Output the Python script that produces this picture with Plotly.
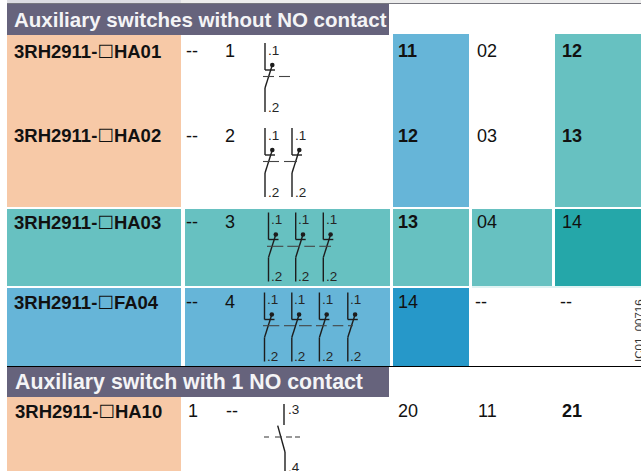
import plotly.graph_objects as go

# ---- table content ----
section_titles = ["Auxiliary switches without NO contact", "Auxiliary switch with 1 NO contact"]
order_codes = ["3RH2911-☐HA01", "3RH2911-☐HA02", "3RH2911-☐HA03", "3RH2911-☐FA04", "3RH2911-☐HA10"]
no_contacts = ["--", "--", "--", "--", "1"]
nc_contacts = ["1", "2", "3", "4", "--"]
col_a = ["11", "12", "13", "14", "20"]
col_a_bold = [True, True, True, False, False]
col_b = ["02", "03", "04", "--", "11"]
col_c = ["12", "13", "14", "--", "21"]
col_c_bold = [True, True, False, False, True]
figure_id = "IC01_00716"

# ---- layout of the page (pixels) ----
W, H = 641, 471
row_y = [51, 135.5, 222, 302, 411]
PEACH, BLUE, TEAL, DTEAL, DBLUE, SLATE = "#F7C9A7", "#66B5D8", "#67C1C1", "#25A7A9", "#2698C9", "#66637C"

rects = [
    (7, 181, 0, 3, "#DCDCE2"), (181, 641, 0, 3, "#EDEDED"), (7, 641, 3, 4, "#77777F"),
    (7, 389, 4, 35, SLATE), (7, 181, 35, 207, PEACH),
    (393, 469, 34, 207, BLUE), (555, 641, 34, 207, TEAL),
    (7, 181, 209, 286, TEAL), (185, 390, 209, 286, TEAL), (393, 469, 209, 286, TEAL),
    (472, 552, 209, 286, TEAL), (555, 641, 209, 286, DTEAL),
    (472, 641, 286, 288, "#DFF3F3"),
    (7, 181, 288, 366, BLUE), (185, 390, 288, 366, BLUE), (393, 469, 288, 366, DBLUE),
    (7, 641, 366, 367, "#000000"), (7, 389, 367, 397, SLATE), (7, 181, 397, 471, PEACH),
]

INK = "#1d1d1d"
LABEL = "#262626"
shapes = []
ann = []


def line(x0, y0, x1, y1, w=1.4, color=INK):
    shapes.append(dict(type="line", x0=x0, y0=y0, x1=x1, y1=y1, line=dict(color=color, width=w)))


def text(x, y, s, size=18, color="#111111", anchor="left", angle=0, bold=False):
    ann.append(dict(x=x, y=y, text=f"<b>{s}</b>" if bold else s, showarrow=False, xanchor=anchor,
                    yanchor="middle", xref="x", yref="y", textangle=angle, borderpad=0, borderwidth=0,
                    font=dict(family="Liberation Sans, DejaVu Sans", size=size, color=color)))


def nc_symbol(x, dy):
    line(x, 43 + dy, x, 70 + dy)
    line(x, 70 + dy, x + 10, 70 + dy)
    shapes.append(dict(type="circle", x0=x + 5, x1=x + 9.6, y0=62.7 + dy, y1=67.3 + dy,
                       fillcolor=INK, line=dict(width=0)))
    line(x + 7.3, 65 + dy, x, 88 + dy)
    line(x, 88 + dy, x, 112 + dy)
    text(x + 2.5, 50 + dy, ".1", size=13.5, color=LABEL)
    text(x + 2.5, 107 + dy, ".2", size=13.5, color=LABEL)


def dashes(spans, y):
    for a, b in spans:
        line(a, y, b, y, 1.1, "#444444")


for x0, x1, y0, y1, c in rects:
    shapes.append(dict(type="rect", x0=x0, x1=x1, y0=y0, y1=y1, fillcolor=c, line=dict(width=0), layer="below"))

# contact symbols
nc_symbol(265, 0)
dashes([(263, 274), (279, 290)], 76.5)
for x in (265, 292):
    nc_symbol(x, 85)
dashes([(263, 279), (284, 297)], 161.5)
for x in (268.5, 295.7, 323.3):
    nc_symbol(x, 169.5)
dashes([(267, 283.3), (287.3, 300), (304.3, 315), (319.3, 331)], 246.3)
for x in (264.5, 291.8, 319.4, 347.8):
    nc_symbol(x, 249.5)
dashes([(263, 279.3), (284, 295), (299, 311.7), (316, 326.7), (332.7, 343.3), (348, 353)], 325.7)

# NO contact symbol
line(284, 404, 284, 425)
line(277.7, 425.6, 285, 452)
line(285, 452, 285, 471)
dashes([(264, 269), (275, 282), (286, 292), (295, 300)], 437)
text(288, 409, ".3", size=13.5, color=LABEL)
text(288, 467, ".4", size=13.5, color=LABEL)

# texts
text(14, 19.5, section_titles[0], size=20.5, color="#F4F4F6", bold=True)
text(15, 381.5, section_titles[1], size=21.3, color="#F4F4F6", bold=True)
for i, y in enumerate(row_y):
    text(14 if i < 4 else 15, y, order_codes[i], size=18.5, bold=True)
    text(186 if i < 4 else 188, y, no_contacts[i])
    text(225 if i < 4 else 226, y, nc_contacts[i])
    text(398, y, col_a[i], bold=col_a_bold[i])
    text(477 if i < 3 else (475 if i == 3 else 478), y, col_b[i])
    text(562 if i != 3 else 560, y, col_c[i], bold=col_c_bold[i])
text(639, 331, figure_id, size=11.5, color="#333333", anchor="center", angle=-90)

fig = go.Figure()
fig.update_layout(
    width=W, height=H, margin=dict(l=0, r=0, t=0, b=0), paper_bgcolor="white", plot_bgcolor="white",
    showlegend=False, shapes=shapes, annotations=ann,
    xaxis=dict(range=[0, W], visible=False, fixedrange=True),
    yaxis=dict(range=[H, 0], visible=False, fixedrange=True),
)
fig.write_html("out.html", config={"displayModeBar": False},
               post_script="document.body.style.margin='0';document.documentElement.style.overflow='hidden';")
